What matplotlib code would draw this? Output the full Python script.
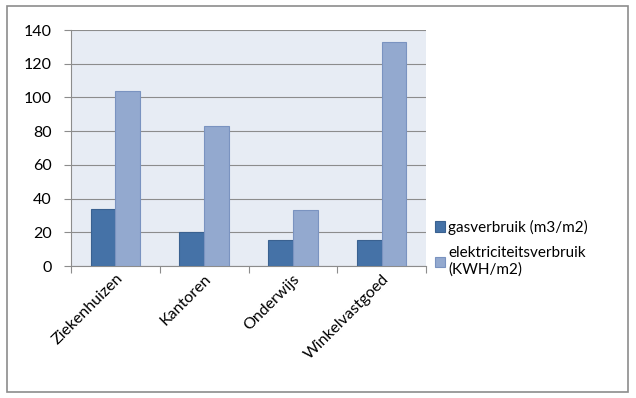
import matplotlib.pyplot as plt
import numpy as np
from matplotlib.patches import Rectangle

plt.rcParams['font.family'] = ['Lato', 'DejaVu Sans']

categories = ['Ziekenhuizen', 'Kantoren', 'Onderwijs', 'Winkelvastgoed']
gas = [34, 20, 15.5, 15.5]
elektriciteit = [104, 83, 33, 133]
series_names = ['gasverbruik (m3/m2)', 'elektriciteitsverbruik\n(KWH/m2)']

fig = plt.figure(figsize=(6.36, 3.98), dpi=100)
ax = fig.add_axes([71 / 636, 132 / 398, 355 / 636, 236 / 398])

x = np.arange(len(categories))
w = 0.28
b1 = ax.bar(x - w / 2, gas, w, color='#4572A7', edgecolor='#3A6190', linewidth=0.8,
            label=series_names[0], zorder=3)
b2 = ax.bar(x + w / 2, elektriciteit, w, color='#93A9CF', edgecolor='#7A93C0', linewidth=0.8,
            label=series_names[1], zorder=3)

ax.set_facecolor('#E7ECF4')
ax.set_xlim(-0.5, len(categories) - 0.5)
ax.set_ylim(0, 140)
ax.set_yticks(range(0, 141, 20))
ax.yaxis.grid(True, color='#8C8C8C', linewidth=0.8, zorder=0)
ax.tick_params(axis='y', length=5, color='#8C8C8C', labelsize=11.5, pad=9)

# category ticks on the boundaries, labels rotated
ax.set_xticks(np.arange(-0.5, len(categories)), minor=False)
ax.set_xticklabels([])
ax.set_xticks(x, minor=True)
ax.set_xticklabels(categories, minor=True, rotation=45, ha='right', rotation_mode='anchor',
                   fontsize=11.5)
ax.tick_params(axis='x', which='minor', length=0, pad=4)
ax.tick_params(axis='x', which='major', length=5, color='#8C8C8C')

for s in ['top', 'right']:
    ax.spines[s].set_visible(False)
for s in ['left', 'bottom']:
    ax.spines[s].set_color('#8C8C8C')

fig.legend(handles=[b1, b2], loc='upper left', bbox_to_anchor=(421 / 636, 1 - 206 / 398),
           frameon=False, handlelength=0.65, handleheight=0.65, handletextpad=0.25,
           labelspacing=0.75, fontsize=11)

fig.patches.append(Rectangle((7 / 636, 6 / 398), 621 / 636, 386 / 398, transform=fig.transFigure,
                             fill=False, edgecolor='#8C8C8C', linewidth=1.2))

fig.savefig('out.png', dpi=100)
